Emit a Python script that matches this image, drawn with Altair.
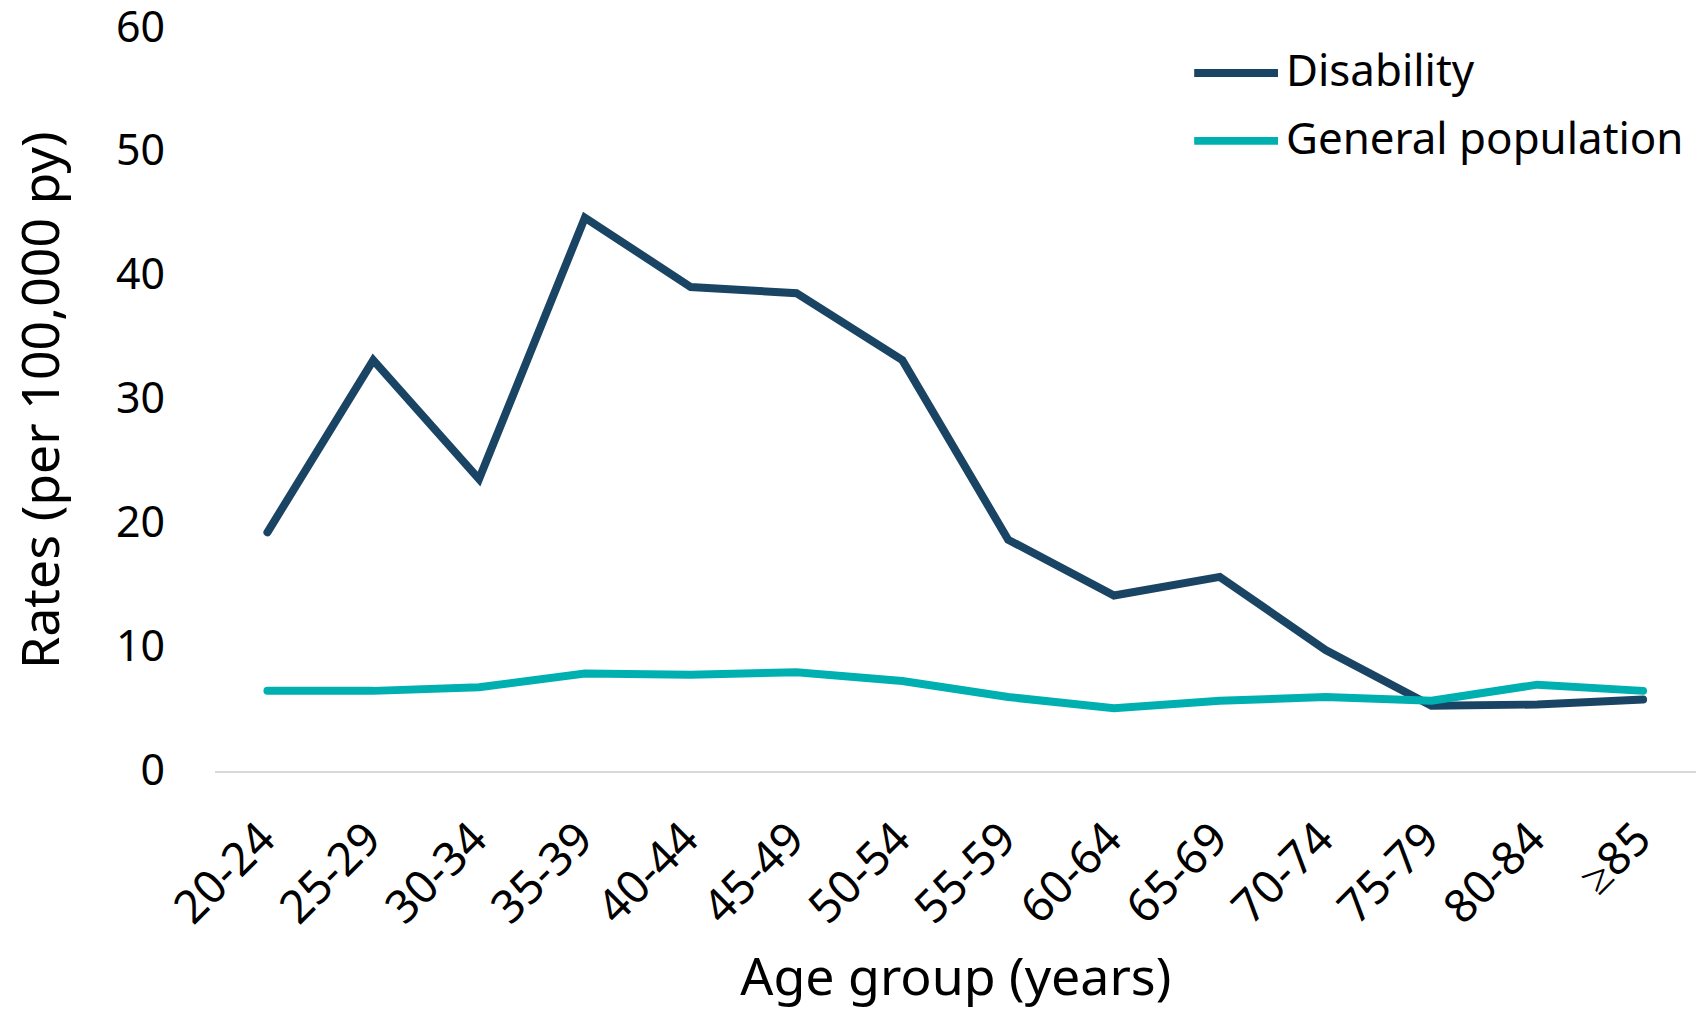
import altair as alt
import pandas as pd

age_groups = ["20-24", "25-29", "30-34", "35-39", "40-44", "45-49", "50-54",
              "55-59", "60-64", "65-69", "70-74", "75-79", "80-84", "≥85"]
disability = [19.3, 33.2, 23.6, 44.7, 39.1, 38.6, 33.2, 18.7, 14.2, 15.7, 9.8, 5.3, 5.4, 5.8]
general_population = [6.5, 6.5, 6.8, 7.9, 7.8, 8.0, 7.3, 6.0, 5.1, 5.7, 6.0, 5.7, 7.0, 6.5]
series_names = ["Disability", "General population"]
series_colors = ["#1A4464", "#00B0B0"]
y_ticks = [0, 10, 20, 30, 40, 50, 60]

rows = []
for name, vals in zip(series_names, [disability, general_population]):
    for a, v in zip(age_groups, vals):
        rows.append({"age": a, "rate": v, "series": name})
df = pd.DataFrame(rows)

FONT = "Noto Sans"

chart = alt.Chart(df).mark_line(strokeWidth=8, strokeCap="round", strokeJoin="miter").encode(
    x=alt.X("age:N", sort=age_groups, title="Age group (years)",
            scale=alt.Scale(paddingInner=1, paddingOuter=0.5),
            axis=alt.Axis(labelAngle=-45, labelAlign="right", labelBaseline="middle",
                          labelFontSize=46, labelPadding=60, ticks=False,
                          domainColor="#D9D9D9", domainWidth=2,
                          titleFontSize=52, titleFontWeight="normal", titlePadding=21,
                          labelColor="black", titleColor="black")),
    y=alt.Y("rate:Q", title="Rates (per 100,000 py)",
            scale=alt.Scale(domain=[0, 60], nice=False),
            axis=alt.Axis(values=y_ticks, grid=False, domain=False, ticks=False,
                          labelFontSize=43, labelPadding=50,
                          titleFontSize=52, titleFontWeight="normal", titlePadding=46,
                          labelColor="black", titleColor="black")),
    color=alt.Color("series:N", sort=series_names,
                    scale=alt.Scale(domain=series_names, range=series_colors),
                    legend=alt.Legend(title=None, orient="none", legendX=978, legendY=-1,
                                      symbolType="stroke", symbolSize=7056,
                                      symbolStrokeWidth=8, labelFontSize=44,
                                      labelLimit=1000,
                                      labelOffset=4, rowPadding=-18, labelColor="black")),
).properties(
    width=1485, height=745,
    autosize=alt.AutoSizeParams(type="none"),
    padding={"left": 207, "top": 19, "right": 0, "bottom": 240},
).configure(font=FONT).configure_view(stroke=None)

chart.save("out.html", embed_options={"renderer": "svg", "actions": False})
